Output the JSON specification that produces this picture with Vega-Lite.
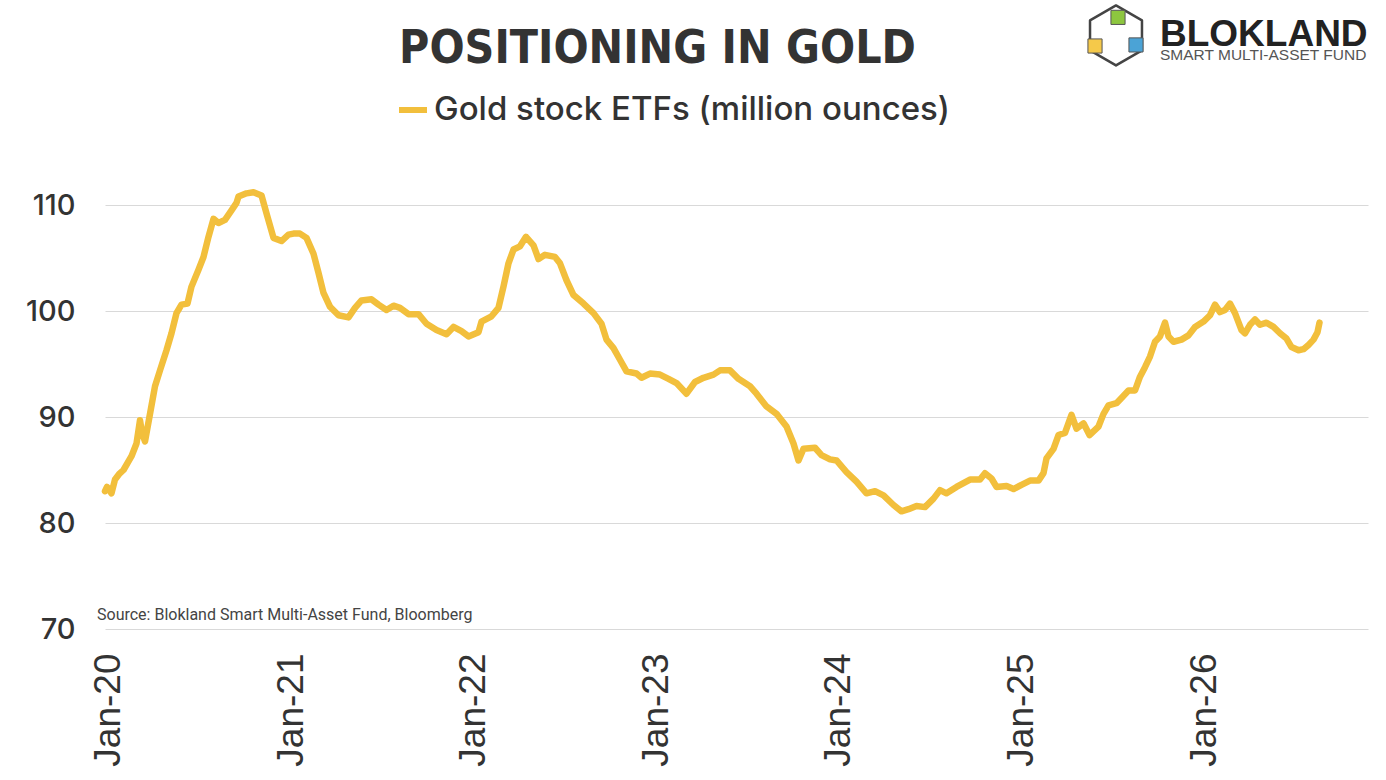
{
  "$schema": "https://vega.github.io/schema/vega-lite/v6.json",
  "description": "Positioning in gold: gold stock ETF holdings",
  "autosize": {"type": "none"},
  "width": 1263,
  "height": 477,
  "padding": {"left": 105, "top": 152, "right": 18, "bottom": 151},
  "background": "white",
  "title": {
    "text": "POSITIONING IN GOLD",
    "font": "DejaVu Sans Condensed, sans-serif",
    "fontSize": 46,
    "fontWeight": "bold",
    "color": "#333333",
    "anchor": "middle",
    "dx": -79,
    "offset": -69
  },
  "datasets": {
    "etf": [
      {"date": "2019-12-26", "oz": 83.0}, {"date": "2019-12-30", "oz": 83.4}, {"date": "2020-01-08", "oz": 82.8},
      {"date": "2020-01-15", "oz": 84.1}, {"date": "2020-01-23", "oz": 84.6}, {"date": "2020-02-01", "oz": 85.0},
      {"date": "2020-02-17", "oz": 86.3}, {"date": "2020-02-27", "oz": 87.5}, {"date": "2020-03-05", "oz": 89.7},
      {"date": "2020-03-09", "oz": 88.5}, {"date": "2020-03-15", "oz": 87.7}, {"date": "2020-03-25", "oz": 90.3},
      {"date": "2020-04-04", "oz": 92.9}, {"date": "2020-04-14", "oz": 94.4}, {"date": "2020-04-27", "oz": 96.3},
      {"date": "2020-05-07", "oz": 97.9}, {"date": "2020-05-17", "oz": 99.8}, {"date": "2020-05-27", "oz": 100.6},
      {"date": "2020-06-08", "oz": 100.7}, {"date": "2020-06-16", "oz": 102.3}, {"date": "2020-06-30", "oz": 103.9},
      {"date": "2020-07-10", "oz": 105.1}, {"date": "2020-07-20", "oz": 107.0}, {"date": "2020-07-30", "oz": 108.7},
      {"date": "2020-08-09", "oz": 108.3}, {"date": "2020-08-22", "oz": 108.6}, {"date": "2020-09-04", "oz": 109.5},
      {"date": "2020-09-14", "oz": 110.2}, {"date": "2020-09-18", "oz": 110.8}, {"date": "2020-10-04", "oz": 111.1},
      {"date": "2020-10-18", "oz": 111.2}, {"date": "2020-11-03", "oz": 110.9}, {"date": "2020-11-13", "oz": 109.2},
      {"date": "2020-11-27", "oz": 106.9}, {"date": "2020-12-13", "oz": 106.6}, {"date": "2020-12-27", "oz": 107.2},
      {"date": "2021-01-06", "oz": 107.3}, {"date": "2021-01-19", "oz": 107.3}, {"date": "2021-02-01", "oz": 106.9},
      {"date": "2021-02-15", "oz": 105.4}, {"date": "2021-02-25", "oz": 103.6}, {"date": "2021-03-07", "oz": 101.7},
      {"date": "2021-03-20", "oz": 100.4}, {"date": "2021-04-06", "oz": 99.6}, {"date": "2021-04-26", "oz": 99.4},
      {"date": "2021-05-09", "oz": 100.3}, {"date": "2021-05-22", "oz": 101.0}, {"date": "2021-06-11", "oz": 101.1},
      {"date": "2021-06-25", "oz": 100.6}, {"date": "2021-07-11", "oz": 100.1}, {"date": "2021-07-25", "oz": 100.5},
      {"date": "2021-08-07", "oz": 100.3}, {"date": "2021-08-24", "oz": 99.7}, {"date": "2021-09-13", "oz": 99.7},
      {"date": "2021-09-29", "oz": 98.8}, {"date": "2021-10-19", "oz": 98.2}, {"date": "2021-11-08", "oz": 97.8},
      {"date": "2021-11-22", "oz": 98.5}, {"date": "2021-12-08", "oz": 98.1}, {"date": "2021-12-22", "oz": 97.6},
      {"date": "2022-01-11", "oz": 98.0}, {"date": "2022-01-17", "oz": 99.0}, {"date": "2022-02-06", "oz": 99.5},
      {"date": "2022-02-20", "oz": 100.3}, {"date": "2022-03-02", "oz": 102.3}, {"date": "2022-03-12", "oz": 104.5},
      {"date": "2022-03-22", "oz": 105.8}, {"date": "2022-04-04", "oz": 106.1}, {"date": "2022-04-16", "oz": 107.0},
      {"date": "2022-05-01", "oz": 106.2}, {"date": "2022-05-11", "oz": 104.9}, {"date": "2022-05-24", "oz": 105.3},
      {"date": "2022-06-13", "oz": 105.1}, {"date": "2022-06-23", "oz": 104.5}, {"date": "2022-07-06", "oz": 102.9},
      {"date": "2022-07-20", "oz": 101.5}, {"date": "2022-08-09", "oz": 100.7}, {"date": "2022-08-29", "oz": 99.8},
      {"date": "2022-09-14", "oz": 98.8}, {"date": "2022-09-24", "oz": 97.3}, {"date": "2022-10-08", "oz": 96.5},
      {"date": "2022-10-21", "oz": 95.4}, {"date": "2022-11-03", "oz": 94.3}, {"date": "2022-11-23", "oz": 94.1},
      {"date": "2022-12-03", "oz": 93.7}, {"date": "2022-12-20", "oz": 94.1}, {"date": "2023-01-09", "oz": 94.0},
      {"date": "2023-01-26", "oz": 93.6}, {"date": "2023-02-11", "oz": 93.2}, {"date": "2023-03-03", "oz": 92.2},
      {"date": "2023-03-20", "oz": 93.3}, {"date": "2023-04-06", "oz": 93.7}, {"date": "2023-04-26", "oz": 94.0},
      {"date": "2023-05-09", "oz": 94.4}, {"date": "2023-05-29", "oz": 94.4}, {"date": "2023-06-15", "oz": 93.6},
      {"date": "2023-07-08", "oz": 92.9}, {"date": "2023-07-21", "oz": 92.2}, {"date": "2023-08-10", "oz": 91.0},
      {"date": "2023-08-30", "oz": 90.3}, {"date": "2023-09-19", "oz": 89.1}, {"date": "2023-10-03", "oz": 87.5},
      {"date": "2023-10-13", "oz": 85.9}, {"date": "2023-10-23", "oz": 87.0}, {"date": "2023-11-15", "oz": 87.1},
      {"date": "2023-11-28", "oz": 86.4}, {"date": "2023-12-15", "oz": 86.0}, {"date": "2023-12-28", "oz": 85.9},
      {"date": "2024-01-17", "oz": 84.8}, {"date": "2024-02-06", "oz": 83.9}, {"date": "2024-02-26", "oz": 82.8},
      {"date": "2024-03-14", "oz": 83.0}, {"date": "2024-03-31", "oz": 82.6}, {"date": "2024-04-20", "oz": 81.7},
      {"date": "2024-05-06", "oz": 81.1}, {"date": "2024-05-20", "oz": 81.3}, {"date": "2024-06-05", "oz": 81.6},
      {"date": "2024-06-22", "oz": 81.5}, {"date": "2024-07-09", "oz": 82.3}, {"date": "2024-07-22", "oz": 83.1},
      {"date": "2024-08-04", "oz": 82.8}, {"date": "2024-08-24", "oz": 83.4}, {"date": "2024-09-20", "oz": 84.1},
      {"date": "2024-10-10", "oz": 84.1}, {"date": "2024-10-20", "oz": 84.7}, {"date": "2024-11-02", "oz": 84.2},
      {"date": "2024-11-12", "oz": 83.4}, {"date": "2024-12-02", "oz": 83.5}, {"date": "2024-12-16", "oz": 83.2},
      {"date": "2025-01-01", "oz": 83.6}, {"date": "2025-01-18", "oz": 84.0}, {"date": "2025-02-04", "oz": 84.0},
      {"date": "2025-02-14", "oz": 84.7}, {"date": "2025-02-20", "oz": 86.1}, {"date": "2025-03-06", "oz": 87.0},
      {"date": "2025-03-16", "oz": 88.3}, {"date": "2025-03-29", "oz": 88.5}, {"date": "2025-04-11", "oz": 90.2},
      {"date": "2025-04-21", "oz": 88.9}, {"date": "2025-05-05", "oz": 89.4}, {"date": "2025-05-17", "oz": 88.3},
      {"date": "2025-06-04", "oz": 89.1}, {"date": "2025-06-14", "oz": 90.3}, {"date": "2025-06-24", "oz": 91.1},
      {"date": "2025-07-10", "oz": 91.3}, {"date": "2025-07-20", "oz": 91.8}, {"date": "2025-08-03", "oz": 92.5},
      {"date": "2025-08-16", "oz": 92.5}, {"date": "2025-08-26", "oz": 93.8}, {"date": "2025-09-05", "oz": 94.7},
      {"date": "2025-09-15", "oz": 95.7}, {"date": "2025-09-25", "oz": 97.1}, {"date": "2025-10-05", "oz": 97.6},
      {"date": "2025-10-15", "oz": 98.9}, {"date": "2025-10-22", "oz": 97.6}, {"date": "2025-11-01", "oz": 97.1},
      {"date": "2025-11-17", "oz": 97.3}, {"date": "2025-12-01", "oz": 97.7}, {"date": "2025-12-14", "oz": 98.5},
      {"date": "2025-12-31", "oz": 99.0}, {"date": "2026-01-13", "oz": 99.6}, {"date": "2026-01-23", "oz": 100.6},
      {"date": "2026-02-02", "oz": 99.9}, {"date": "2026-02-12", "oz": 100.1}, {"date": "2026-02-22", "oz": 100.7},
      {"date": "2026-03-04", "oz": 99.8}, {"date": "2026-03-17", "oz": 98.2}, {"date": "2026-03-24", "oz": 97.9},
      {"date": "2026-04-03", "oz": 98.7}, {"date": "2026-04-13", "oz": 99.2}, {"date": "2026-04-23", "oz": 98.7},
      {"date": "2026-05-06", "oz": 98.9}, {"date": "2026-05-20", "oz": 98.5}, {"date": "2026-06-02", "oz": 97.9},
      {"date": "2026-06-15", "oz": 97.4}, {"date": "2026-06-25", "oz": 96.6}, {"date": "2026-07-09", "oz": 96.3},
      {"date": "2026-07-19", "oz": 96.4}, {"date": "2026-07-29", "oz": 96.8}, {"date": "2026-08-08", "oz": 97.3},
      {"date": "2026-08-16", "oz": 98.0}, {"date": "2026-08-20", "oz": 98.9}
    ],
    "one": [{"n": 1}]
  },
  "layer": [
    {
      "data": {"name": "etf"},
      "mark": {"type": "line", "strokeWidth": 6.5, "strokeJoin": "round", "strokeCap": "round"},
      "encoding": {
        "x": {
          "field": "date",
          "type": "temporal",
          "title": null,
          "scale": {"domain": ["2019-12-26", "2026-11-25"]},
          "axis": {
            "values": [
              {"year": 2020, "month": 1, "date": 1}, {"year": 2021, "month": 1, "date": 1},
              {"year": 2022, "month": 1, "date": 1}, {"year": 2023, "month": 1, "date": 1},
              {"year": 2024, "month": 1, "date": 1}, {"year": 2025, "month": 1, "date": 1},
              {"year": 2026, "month": 1, "date": 1}
            ],
            "format": "%b-%y",
            "labelAngle": -90,
            "labelFont": "Liberation Sans",
            "labelFontSize": 37,
            "labelColor": "#333333",
            "labelPadding": 24,
            "labelOverlap": false,
            "grid": false,
            "ticks": false,
            "domain": false
          }
        },
        "y": {
          "field": "oz",
          "type": "quantitative",
          "title": null,
          "scale": {"domain": [70, 115], "nice": false, "zero": false},
          "axis": {
            "values": [70, 80, 90, 100, 110],
            "labelFont": "Inter",
            "labelFontSize": 29,
            "labelFontWeight": 500,
            "labelColor": "#333333",
            "labelPadding": 30,
            "grid": true,
            "gridColor": "#d9d9d9",
            "gridWidth": 1.2,
            "ticks": false,
            "domain": false
          }
        },
        "color": {
          "datum": "Gold stock ETFs (million ounces)",
          "type": "nominal",
          "scale": {"range": ["#F2BF3C"]},
          "legend": {
            "title": null,
            "orient": "none",
            "legendX": 291,
            "legendY": -59,
            "symbolType": "stroke",
            "symbolSize": 784,
            "symbolStrokeWidth": 6,
            "labelFont": "Inter",
            "labelFontSize": 33,
            "labelFontWeight": 500,
            "labelColor": "#333333",
            "labelOffset": 4,
            "labelLimit": 800
          }
        }
      }
    },
    {
      "data": {"name": "one"},
      "mark": {"type": "text", "align": "left", "baseline": "alphabetic", "font": "Roboto", "fontSize": 16, "color": "#444444", "text": "Source: Blokland Smart Multi-Asset Fund, Bloomberg"},
      "encoding": {
        "x": {"datum": {"year": 2019, "month": 12, "date": 10}, "type": "temporal"},
        "y": {"datum": 70.85, "type": "quantitative"}
      }
    },
    {
      "data": {"name": "one"},
      "mark": {"type": "point", "shape": "M0,-1L0.866,-0.5L0.866,0.5L0,1L-0.866,0.5L-0.866,-0.5Z", "size": 3600, "filled": false, "stroke": "#444444", "strokeWidth": 2.5, "strokeJoin": "round", "opacity": 1},
      "encoding": {
        "x": {"datum": {"year": 2025, "month": 7, "date": 9}, "type": "temporal"},
        "y": {"datum": 126.0, "type": "quantitative"}
      }
    },
    {
      "data": {"name": "one"},
      "mark": {"type": "point", "shape": "square", "size": 200, "filled": true, "color": "#8DC63F", "stroke": "#555555", "strokeWidth": 1, "opacity": 1},
      "encoding": {
        "x": {"datum": {"year": 2025, "month": 7, "date": 13}, "type": "temporal"},
        "y": {"datum": 127.7, "type": "quantitative"}
      }
    },
    {
      "data": {"name": "one"},
      "mark": {"type": "point", "shape": "square", "size": 200, "filled": true, "color": "#F5C94A", "stroke": "#555555", "strokeWidth": 1, "opacity": 1},
      "encoding": {
        "x": {"datum": {"year": 2025, "month": 5, "date": 28}, "type": "temporal"},
        "y": {"datum": 125.0, "type": "quantitative"}
      }
    },
    {
      "data": {"name": "one"},
      "mark": {"type": "point", "shape": "square", "size": 200, "filled": true, "color": "#4BA3D6", "stroke": "#555555", "strokeWidth": 1, "opacity": 1},
      "encoding": {
        "x": {"datum": {"year": 2025, "month": 8, "date": 18}, "type": "temporal"},
        "y": {"datum": 125.1, "type": "quantitative"}
      }
    },
    {
      "data": {"name": "one"},
      "mark": {"type": "text", "align": "left", "baseline": "alphabetic", "font": "Liberation Sans", "fontWeight": "bold", "fontSize": 37, "color": "#222222", "text": "BLOKLAND"},
      "encoding": {
        "x": {"datum": {"year": 2025, "month": 10, "date": 5}, "type": "temporal"},
        "y": {"datum": 125.0, "type": "quantitative"}
      }
    },
    {
      "data": {"name": "one"},
      "mark": {"type": "text", "align": "left", "baseline": "alphabetic", "font": "Liberation Sans", "fontSize": 15.5, "color": "#555555", "text": "SMART MULTI-ASSET FUND"},
      "encoding": {
        "x": {"datum": {"year": 2025, "month": 10, "date": 5}, "type": "temporal"},
        "y": {"datum": 123.7, "type": "quantitative"}
      }
    }
  ],
  "config": {
    "view": {"stroke": null}
  }
}
